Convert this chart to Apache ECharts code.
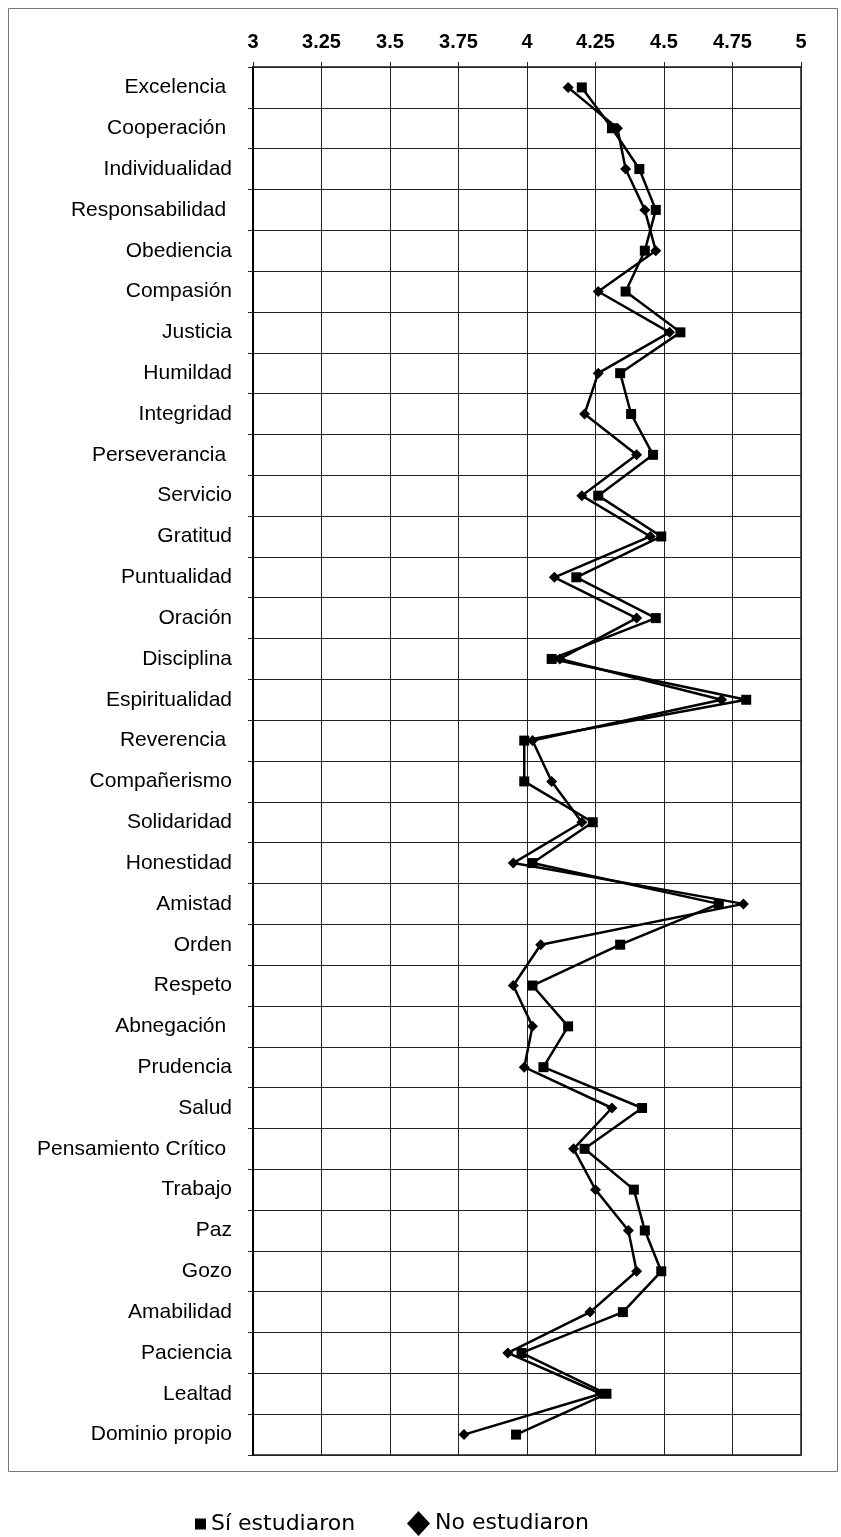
<!DOCTYPE html>
<html>
<head>
<meta charset="utf-8">
<style>
  html, body { margin: 0; padding: 0; background: #fff; }
  #main { width: 841px; height: 1537px; }
</style>
<script src="https://cdn.jsdelivr.net/npm/echarts@6/dist/echarts.min.js"></script>
</head>
<body>
<div id="main"></div>
<script>
// valores (lectura del gráfico)
var categorias = ['Excelencia ', 'Cooperación ', 'Individualidad', 'Responsabilidad ', 'Obediencia',
  'Compasión', 'Justicia', 'Humildad', 'Integridad', 'Perseverancia ', 'Servicio', 'Gratitud',
  'Puntualidad', 'Oración', 'Disciplina', 'Espiritualidad', 'Reverencia ', 'Compañerismo',
  'Solidaridad', 'Honestidad', 'Amistad', 'Orden', 'Respeto', 'Abnegación ', 'Prudencia', 'Salud',
  'Pensamiento Crítico ', 'Trabajo', 'Paz', 'Gozo', 'Amabilidad', 'Paciencia', 'Lealtad', 'Dominio propio'];

var siEstudiaron = [4.20, 4.31, 4.41, 4.47, 4.43, 4.36, 4.56, 4.34, 4.38, 4.46, 4.26, 4.49,
  4.18, 4.47, 4.09, 4.80, 3.99, 3.99, 4.24, 4.02, 4.70, 4.34, 4.02, 4.15, 4.06, 4.42,
  4.21, 4.39, 4.43, 4.49, 4.35, 3.98, 4.29, 3.96];

var noEstudiaron = [4.15, 4.33, 4.36, 4.43, 4.47, 4.26, 4.52, 4.26, 4.21, 4.40, 4.20, 4.45,
  4.10, 4.40, 4.12, 4.71, 4.02, 4.09, 4.20, 3.95, 4.79, 4.05, 3.95, 4.02, 3.99, 4.31,
  4.17, 4.25, 4.37, 4.40, 4.23, 3.93, 4.27, 3.77];

var etiquetasX = ['3', '3.25', '3.5', '3.75', '4', '4.25', '4.5', '4.75', '5'];

var myChart = echarts.init(document.getElementById('main'));

myChart.setOption({
  animation: false,
  textStyle: { fontFamily: 'Liberation Sans, Arial, sans-serif', color: '#000' },
  graphic: [{
    type: 'rect',
    shape: { x: 8.5, y: 8.5, width: 829, height: 1463 },
    style: { fill: 'none', stroke: '#777', lineWidth: 1 }
  }],
  legend: [{
    data: ['Sí estudiaron'],
    left: 190, top: 1508,
    icon: 'rect', itemWidth: 11, itemHeight: 11,
    textStyle: { fontFamily: 'DejaVu Sans', fontSize: 22, color: '#000' }
  }, {
    data: ['No estudiaron'],
    left: 402, top: 1506,
    icon: 'diamond', itemWidth: 23, itemHeight: 25,
    textStyle: { fontFamily: 'DejaVu Sans', fontSize: 22, color: '#000' }
  }],
  grid: {
    left: 253, right: 40, top: 67, bottom: 82,
    show: true, borderColor: '#555', borderWidth: 2
  },
  xAxis: {
    type: 'value',
    position: 'top',
    min: 3, max: 5, interval: 0.25,
    axisLine: { show: false },
    axisTick: { show: true, length: 5, lineStyle: { color: '#222' } },
    axisLabel: {
      margin: 15, fontSize: 20, fontWeight: 'bold', color: '#000',
      formatter: function (v, i) { return etiquetasX[i]; }
    },
    splitLine: { show: true, lineStyle: { color: '#222', width: 1 } }
  },
  yAxis: {
    type: 'category',
    data: categorias,
    inverse: true,
    boundaryGap: true,
    axisLine: { show: true, lineStyle: { color: '#000', width: 2 } },
    axisTick: { show: true, length: 5, lineStyle: { color: '#222' } },
    axisLabel: { margin: 21, fontSize: 21, color: '#000' },
    splitLine: { show: true, lineStyle: { color: '#222', width: 1 } }
  },
  series: [{
    name: 'Sí estudiaron',
    type: 'line',
    data: siEstudiaron,
    symbol: 'rect', symbolSize: 10,
    lineStyle: { color: '#000', width: 2.5 },
    itemStyle: { color: '#000' }
  }, {
    name: 'No estudiaron',
    type: 'line',
    data: noEstudiaron,
    symbol: 'diamond', symbolSize: 11,
    lineStyle: { color: '#000', width: 2.5 },
    itemStyle: { color: '#000' }
  }]
});
</script>
</body>
</html>
